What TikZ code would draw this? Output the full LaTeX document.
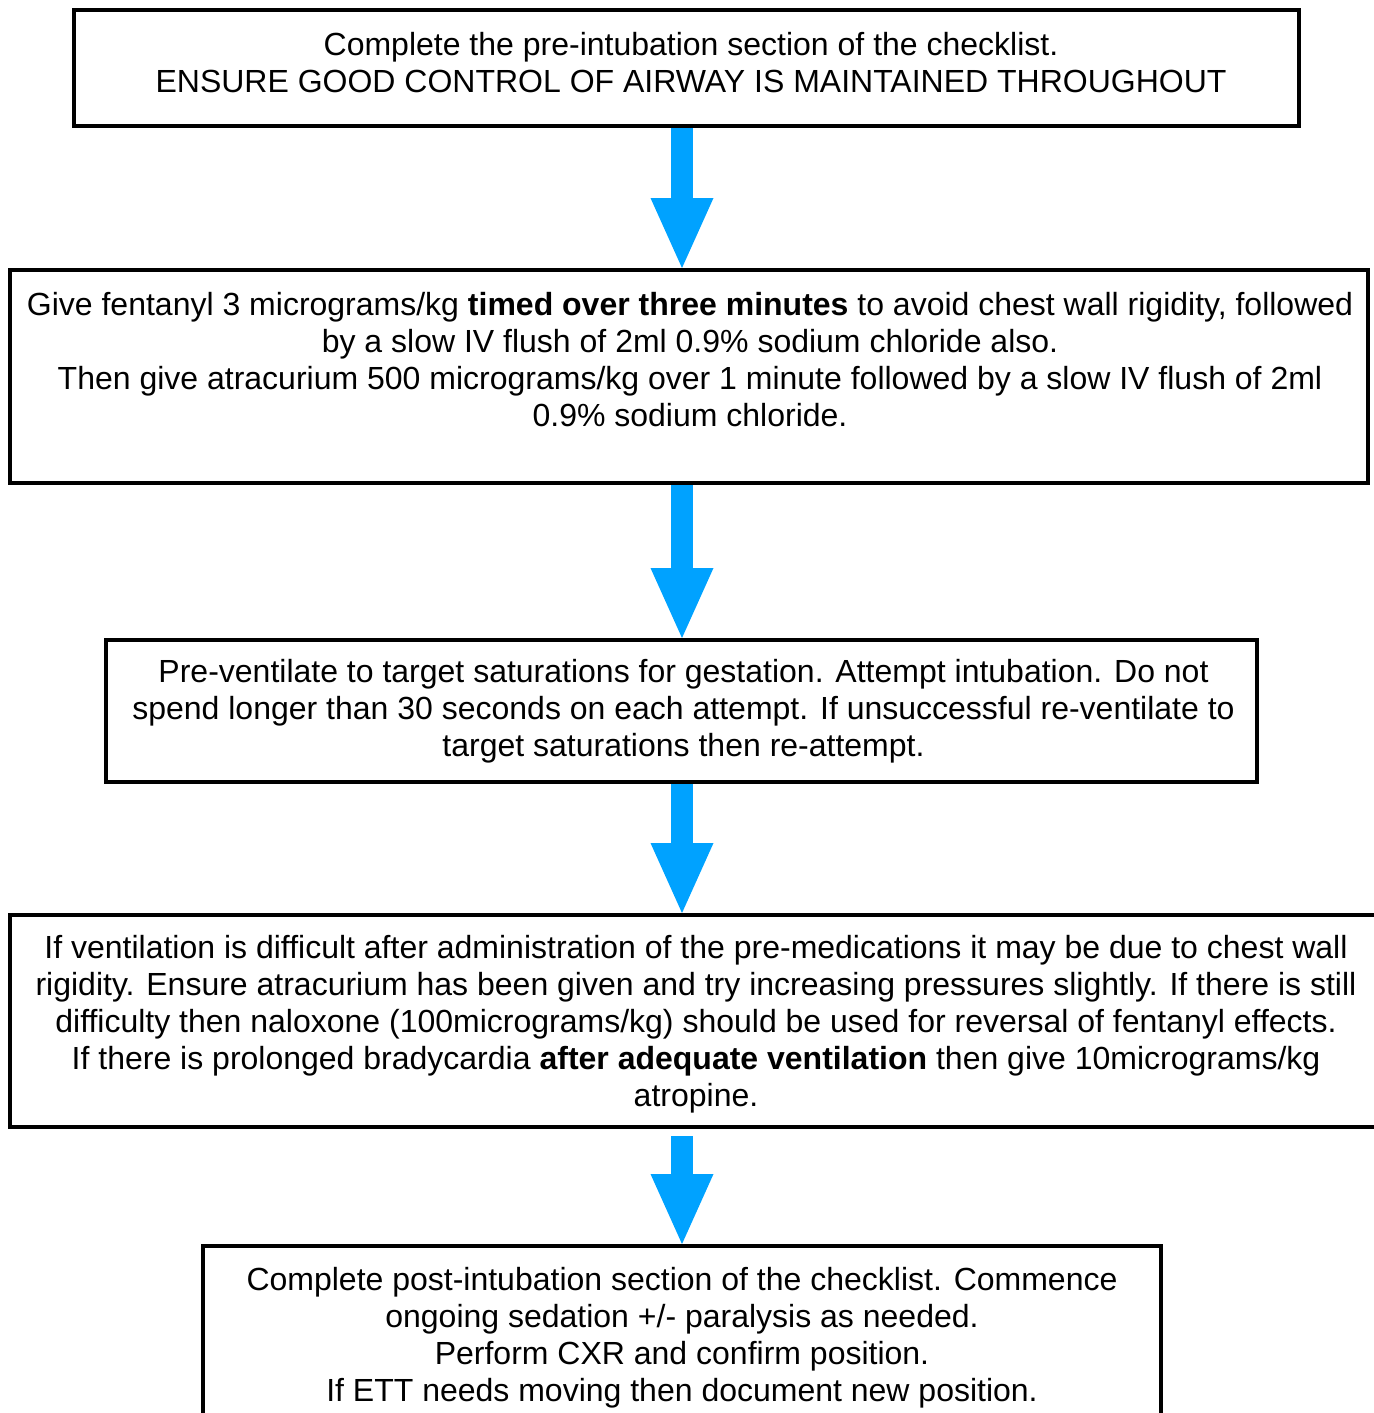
\documentclass[tikz,border=0pt]{standalone}
\usepackage{fontspec}
\setmainfont{Liberation Sans}
\usetikzlibrary{arrows.meta}
\definecolor{arrowblue}{RGB}{0,162,255}
\begin{document}
\begin{tikzpicture}[x=0.5pt,y=-0.5pt,
  box/.style={draw, line width=2pt, inner sep=0pt, outer sep=0pt},
  txt/.style={align=center, inner sep=0pt, font=\fontsize{16}{18.5}\selectfont},
  flow/.style={line width=11pt, draw=arrowblue, -{Triangle[width=31.5pt,length=35pt,line width=0pt]}, shorten >=1pt}]
\useasboundingbox (0,0) rectangle (1373,1413);
\coordinate (ax) at (682,0);
% boxes
\node[box, minimum width=612.5pt, minimum height=58pt] (b1) at (686.5,68) {};
\node[box, minimum width=679pt, minimum height=106.5pt] (b2) at (689,376.5) {};
\node[box, minimum width=575.5pt, minimum height=71pt] (b3) at (681.5,711) {};
\node[box, minimum width=690pt, minimum height=106pt] (b4) at (700,1021) {};
\node[box, minimum width=479pt, minimum height=97pt] (b5) at (682,1343) {};
% arrows
\draw[flow] (b1.south -| ax) -- (b2.north -| ax);
\draw[flow] (b2.south -| ax) -- (b3.north -| ax);
\draw[flow] (b3.south -| ax) -- (b4.north -| ax);
\draw[flow, shorten <=4.5pt] (b4.south -| ax) -- (b5.north -| ax);
% redraw boxes over arrow ends
\draw[line width=2pt] (b1.south west) -- (b1.south east);
\draw[line width=2pt] (b2.north west) -- (b2.north east) (b2.south west) -- (b2.south east);
\draw[line width=2pt] (b3.north west) -- (b3.north east) (b3.south west) -- (b3.south east);
\draw[line width=2pt] (b4.north west) -- (b4.north east) (b4.south west) -- (b4.south east);
\draw[line width=2pt] (b5.north west) -- (b5.north east);
% texts
\node[txt] (t1) at (691,62.5) {Complete the pre-intubation section of the checklist.\\ENSURE GOOD CONTROL OF AIRWAY IS MAINTAINED THROUGHOUT};
\node[txt] (t2) at (690,359.5) {Give fentanyl 3 micrograms/kg \textbf{timed over three minutes} to avoid chest wall rigidity, followed\\by a slow IV flush of 2ml 0.9\% sodium chloride also.\\Then give atracurium 500 micrograms/kg over 1 minute followed by a slow IV flush of 2ml\\0.9\% sodium chloride.};
\node[txt] (t3) at (683.5,711) {Pre-ventilate to target saturations for gestation. Attempt intubation. Do not\\spend longer than 30 seconds on each attempt. If unsuccessful re-ventilate to\\target saturations then re-attempt.};
\node[txt] (t4) at (696,1024.5) {If ventilation is difficult after administration of the pre-medications it may be due to chest wall\\rigidity. Ensure atracurium has been given and try increasing pressures slightly. If there is still\\difficulty then naloxone (100micrograms/kg) should be used for reversal of fentanyl effects.\\If there is prolonged bradycardia \textbf{after adequate ventilation} then give 10micrograms/kg\\atropine.};
\node[txt] (t5) at (682,1337.5) {Complete post-intubation section of the checklist. Commence\\ongoing sedation +/- paralysis as needed.\\Perform CXR and confirm position.\\If ETT needs moving then document new position.};
\end{tikzpicture}
\end{document}
